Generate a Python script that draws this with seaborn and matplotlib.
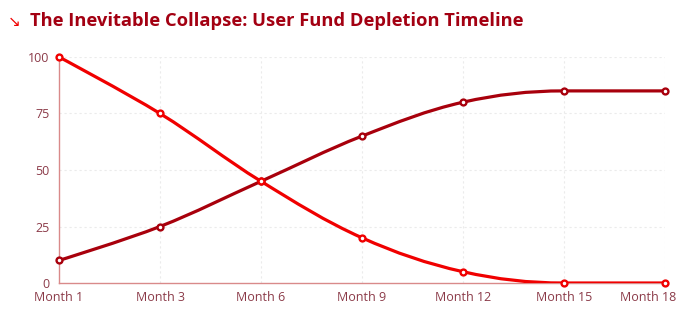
import numpy as np
import pandas as pd
import matplotlib
matplotlib.use("Agg")
import matplotlib.pyplot as plt
import matplotlib.transforms as mtransforms
from matplotlib.path import Path
from matplotlib.patches import PathPatch
import seaborn as sns

# ---- data ----
months = ["Month 1", "Month 3", "Month 6", "Month 9", "Month 12", "Month 15", "Month 18"]
user_funds = [100, 75, 45, 20, 5, 0, 0]
extracted = [10, 25, 45, 65, 80, 85, 85]
y_ticks = [0, 25, 50, 75, 100]

title = "The Inevitable Collapse: User Fund Depletion Timeline"
c_fall = "#f00000"
c_rise = "#a8000c"
c_title = "#a30012"
c_tick = "#8b3a48"
c_axis = "#d98a8a"

sns.set_theme(style="white")
plt.rcParams['font.family'] = ['Open Sans', 'DejaVu Sans']

fig = plt.figure(figsize=(6.92, 3.30), dpi=100)
ax = fig.add_axes([59 / 692, 1 - 283 / 330, (665 - 59) / 692, (283 - 57) / 330])

x = np.arange(len(months))
ax.set_xlim(0, len(months) - 1)
ax.set_ylim(0, 100)

SX, SY = 101.0, 2.26  # approx px per unit for smoothing geometry


def smooth_path(xs, ys, smooth=0.35):
    P = np.column_stack([np.asarray(xs, float) * SX, np.asarray(ys, float) * SY])
    n = len(P)
    cin = P.copy()
    cout = P.copy()
    for i in range(1, n - 1):
        prev, cur, nxt = P[i - 1], P[i], P[i + 1]
        v = nxt - prev
        l0 = np.hypot(*(cur - prev))
        l1 = np.hypot(*(nxt - cur))
        r = l1 / (l0 + l1) if (l0 + l1) > 0 else 0.5
        o = cur + v * smooth * r
        o[0] = np.clip(o[0], min(cur[0], nxt[0]), max(cur[0], nxt[0]))
        o[1] = np.clip(o[1], min(cur[1], nxt[1]), max(cur[1], nxt[1]))
        vv = o - cur
        inn = cur - vv * (l0 / l1 if l1 > 0 else 1)
        lo = np.minimum(cur, prev)
        hi = np.maximum(cur, prev)
        inn2 = np.clip(inn, lo, hi)
        if not np.allclose(inn2, inn):
            vv = cur - inn2
            o = cur + vv * (l1 / l0 if l0 > 0 else 1)
            inn = inn2
        cin[i] = inn
        cout[i] = o
    verts = [P[0]]
    codes = [Path.MOVETO]
    for i in range(1, n):
        verts += [cout[i - 1], cin[i], P[i]]
        codes += [Path.CURVE4] * 3
    verts = np.array(verts)
    verts[:, 0] /= SX
    verts[:, 1] /= SY
    return Path(verts, codes)


# grid
for t in y_ticks[1:]:
    ax.axhline(t, color="#ebebeb", lw=0.8, ls=(0, (2, 2.5)), zorder=0)
for xi in x[1:]:
    ax.axvline(xi, color="#ebebeb", lw=0.8, ls=(0, (2, 2.5)), zorder=0)

for ys, col, z in [(extracted, c_rise, 3), (user_funds, c_fall, 4)]:
    ax.add_patch(PathPatch(smooth_path(x, ys), facecolor="none", edgecolor=col,
                           lw=2.3, zorder=z, capstyle="round", joinstyle="round"))

df = pd.DataFrame({"x": np.concatenate([x, x]),
                   "y": extracted + user_funds,
                   "s": ["rise"] * len(x) + ["fall"] * len(x)})
for name, col, z in [("rise", c_rise, 5), ("fall", c_fall, 6)]:
    d = df[df.s == name]
    sns.scatterplot(data=d, x="x", y="y", ax=ax, s=18, color="white",
                    edgecolor=col, linewidth=1.7, zorder=z, legend=False, clip_on=False)

ax.set_xticks(x)
ax.set_xticklabels(months)
ax.set_yticks(y_ticks)
ax.set_xlabel("")
ax.set_ylabel("")
for s in ["top", "right"]:
    ax.spines[s].set_visible(False)
for s in ["left", "bottom"]:
    ax.spines[s].set_color(c_axis)
    ax.spines[s].set_linewidth(1.0)
ax.tick_params(axis="both", colors=c_axis, labelcolor=c_tick, labelsize=9,
               length=4, width=1, direction="out", pad=2)
ax.tick_params(axis="y", pad=3)
labels = ax.get_xticklabels()
labels[-1].set_horizontalalignment("right")
off = mtransforms.ScaledTranslation(11 / 100, 0, fig.dpi_scale_trans)
labels[-1].set_transform(labels[-1].get_transform() + off)

fig.text(8 / 692, 1 - 21 / 330, "↘", color=c_fall, fontsize=11, va="center",
         ha="left", family="DejaVu Sans")
fig.text(30 / 692, 1 - 21 / 330, title, color=c_title, fontsize=13.2,
         fontweight="bold", va="center", ha="left")

fig.savefig("out.png", dpi=100, facecolor="white")
